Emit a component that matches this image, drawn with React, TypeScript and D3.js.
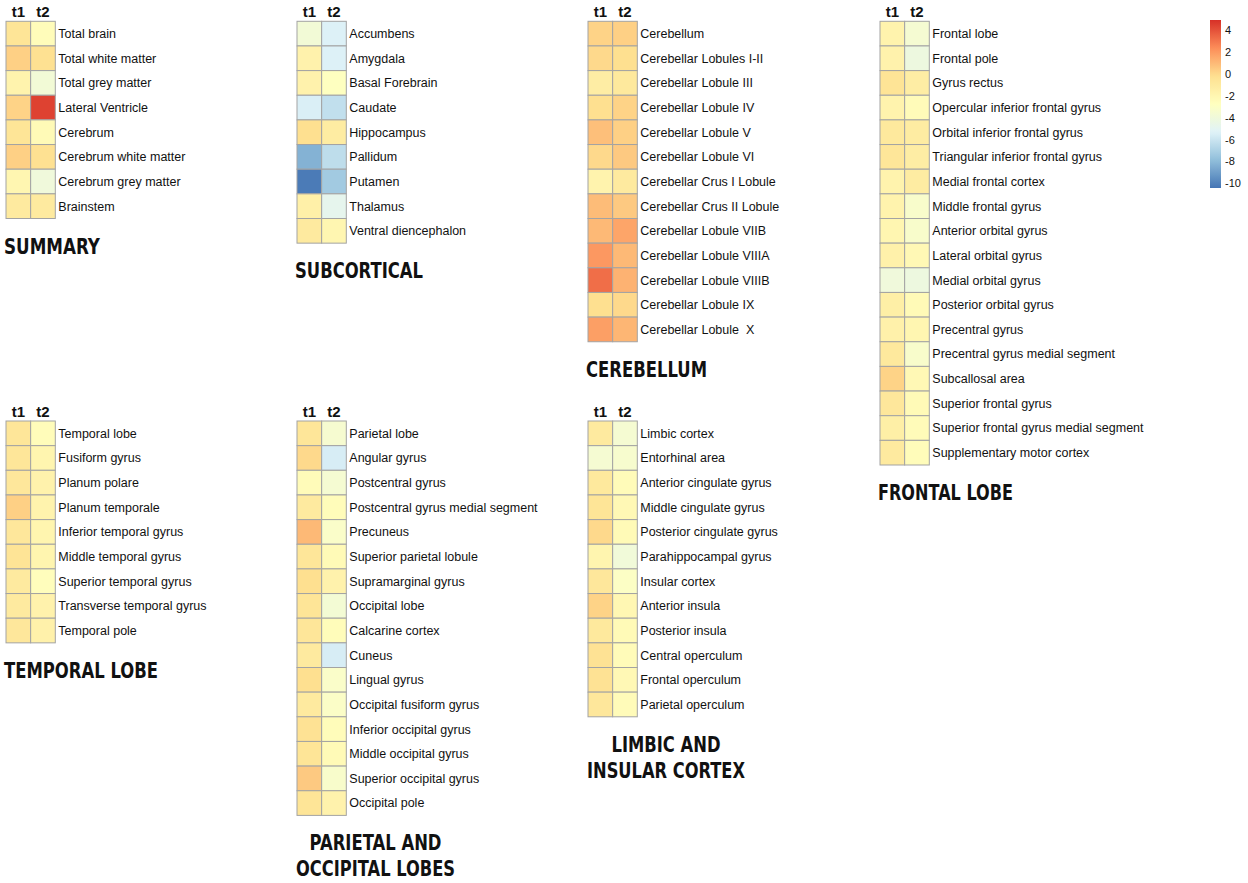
import React from "react";
import * as d3 from "d3";

// ---------- data ----------
const timepoints = ["t1", "t2"];

const summaryLabels = ["Total brain", "Total white matter", "Total grey matter", "Lateral Ventricle", "Cerebrum", "Cerebrum white matter", "Cerebrum grey matter", "Brainstem"];
const summaryT1 = [-0.6, 0.3, -1.8, 0.2, -0.6, 0.3, -2.0, -1.0];
const summaryT2 = [-2.5, -0.3, -3.8, 4.4, -2.3, -0.3, -4.0, -1.0];

const subcorticalLabels = ["Accumbens", "Amygdala", "Basal Forebrain", "Caudate", "Hippocampus", "Pallidum", "Putamen", "Thalamus", "Ventral diencephalon"];
const subcorticalT1 = [-3.8, -1.7, -1.7, -5.5, -0.2, -8.3, -10.2, -1.5, -1.0];
const subcorticalT2 = [-5.4, -5.4, -2.8, -6.3, -1.2, -6.4, -7.3, -4.8, -2.0];

const cerebellumLabels = ["Cerebellum", "Cerebellar Lobules I-II", "Cerebellar Lobule III", "Cerebellar Lobule IV", "Cerebellar Lobule V", "Cerebellar Lobule VI", "Cerebellar Crus I Lobule", "Cerebellar Crus II Lobule", "Cerebellar Lobule VIIB", "Cerebellar Lobule VIIIA", "Cerebellar Lobule VIIIB", "Cerebellar Lobule IX", "Cerebellar Lobule  X"];
const cerebellumT1 = [0.2, 0.0, -1.3, -0.2, 0.8, 0.0, -1.8, 0.9, 1.0, 2.0, 3.2, -0.2, 1.8];
const cerebellumT2 = [0.3, -0.2, -0.9, 0.2, 0.3, 0.5, -1.0, 0.5, 1.6, 1.0, 1.2, 0.0, 1.1];

const frontalLabels = ["Frontal lobe", "Frontal pole", "Gyrus rectus", "Opercular inferior frontal gyrus", "Orbital inferior frontal gyrus", "Triangular inferior frontal gyrus", "Medial frontal cortex", "Middle frontal gyrus", "Anterior orbital gyrus", "Lateral orbital gyrus", "Medial orbital gyrus", "Posterior orbital gyrus", "Precentral gyrus", "Precentral gyrus medial segment", "Subcallosal area", "Superior frontal gyrus", "Superior frontal gyrus medial segment", "Supplementary motor cortex"];
const frontalT1 = [-1.8, -1.7, -0.5, -1.8, -0.9, -0.7, -1.8, -1.8, -2.0, -1.6, -4.0, -1.4, -1.6, -0.9, 0.2, -0.8, -1.4, -1.0];
const frontalT2 = [-3.6, -4.2, -1.3, -2.4, -1.2, -1.3, -1.2, -3.3, -3.3, -2.2, -4.2, -2.3, -2.0, -3.3, -2.2, -2.3, -2.4, -2.5];

const temporalLabels = ["Temporal lobe", "Fusiform gyrus", "Planum polare", "Planum temporale", "Inferior temporal gyrus", "Middle temporal gyrus", "Superior temporal gyrus", "Transverse temporal gyrus", "Temporal pole"];
const temporalT1 = [-0.7, -0.7, -0.8, 0.3, -0.8, -0.5, -1.0, -1.0, -0.8];
const temporalT2 = [-2.5, -1.9, -1.7, -1.8, -1.9, -1.9, -2.6, -1.7, -1.6];

const parietalLabels = ["Parietal lobe", "Angular gyrus", "Postcentral gyrus", "Postcentral gyrus medial segment", "Precuneus", "Superior parietal lobule", "Supramarginal gyrus", "Occipital lobe", "Calcarine cortex", "Cuneus", "Lingual gyrus", "Occipital fusiform gyrus", "Inferior occipital gyrus", "Middle occipital gyrus", "Superior occipital gyrus", "Occipital pole"];
const parietalT1 = [-0.7, 0.0, -2.4, -1.0, 1.0, -0.7, -0.2, -0.6, -0.7, -1.0, -0.2, -1.0, -0.4, -0.6, 0.5, -0.6];
const parietalT2 = [-3.5, -5.6, -3.6, -2.5, -3.2, -2.3, -1.7, -3.7, -2.5, -5.6, -3.2, -3.1, -2.5, -2.3, -3.3, -1.7];

const limbicLabels = ["Limbic cortex", "Entorhinal area", "Anterior cingulate gyrus", "Middle cingulate gyrus", "Posterior cingulate gyrus", "Parahippocampal gyrus", "Insular cortex", "Anterior insula", "Posterior insula", "Central operculum", "Frontal operculum", "Parietal operculum"];
const limbicT1 = [-1.0, -3.6, -0.9, -0.6, 0.0, -1.9, -0.8, 0.2, -0.9, -0.4, -0.4, -0.8];
const limbicT2 = [-3.6, -3.4, -2.4, -2.2, -2.3, -3.9, -3.0, -2.1, -2.3, -2.4, -2.2, -2.4];

const legendTicks = [4, 2, 0, -2, -4, -6, -8, -10];
const valueMin = -10.4;
const valueMax = 4.9;
const paletteColors = ["#4575B4", "#91BFDB", "#E0F3F8", "#FFFFBF", "#FEE090", "#FC8D59", "#D73027"];

// ---------- layout ----------
const CELL = 24.65;
const panels = [
  { title: ["SUMMARY"], titleW: [96], labels: summaryLabels, t1: summaryT1, t2: summaryT2, x: 6, y: 21.3, center: null },
  { title: ["SUBCORTICAL"], titleW: [128], labels: subcorticalLabels, t1: subcorticalT1, t2: subcorticalT2, x: 297, y: 21.3, center: null },
  { title: ["CEREBELLUM"], titleW: [121], labels: cerebellumLabels, t1: cerebellumT1, t2: cerebellumT2, x: 588, y: 21.3, center: null },
  { title: ["FRONTAL LOBE"], titleW: [135], labels: frontalLabels, t1: frontalT1, t2: frontalT2, x: 880, y: 21.3, center: null },
  { title: ["TEMPORAL LOBE"], titleW: [154], labels: temporalLabels, t1: temporalT1, t2: temporalT2, x: 6, y: 421, center: null },
  { title: ["PARIETAL AND", "OCCIPITAL LOBES"], titleW: [132, 159], labels: parietalLabels, t1: parietalT1, t2: parietalT2, x: 297, y: 421, center: 375.5 },
  { title: ["LIMBIC AND", "INSULAR CORTEX"], titleW: [109, 158], labels: limbicLabels, t1: limbicT1, t2: limbicT2, x: 588, y: 421, center: 666 },
];

const colorDomain = d3.range(paletteColors.length).map(
  (i) => valueMin + (i * (valueMax - valueMin)) / (paletteColors.length - 1)
);
const color = d3
  .scaleLinear<string>()
  .domain(colorDomain)
  .range(paletteColors)
  .interpolate(d3.interpolateRgb)
  .clamp(true);

const titleFont = "'DejaVu Sans', sans-serif";
const labelFont = "'Liberation Sans', Arial, Helvetica, sans-serif";

function Panel({ p }: { p: any }) {
  const n = p.labels.length;
  const xs = d3.scaleBand().domain(timepoints).range([p.x, p.x + 2 * CELL]);
  const ys = d3.scaleBand().domain(p.labels).range([p.y, p.y + n * CELL]);
  const bottom = p.y + n * CELL;
  const series: Record<string, number[]> = { t1: p.t1, t2: p.t2 };
  return (
    <g>
      {timepoints.map((t) => (
        <text
          key={t}
          x={(xs(t) as number) + xs.bandwidth() / 2}
          y={p.y - 4.5}
          textAnchor="middle"
          fontFamily={labelFont}
          fontWeight="bold"
          fontSize={15}
          fill="#111"
        >
          {t}
        </text>
      ))}
      {timepoints.map((t) =>
        p.labels.map((lab: string, i: number) => (
          <rect
            key={t + lab}
            x={xs(t)}
            y={ys(lab)}
            width={xs.bandwidth()}
            height={ys.bandwidth()}
            fill={color(series[t][i])}
            stroke="#a3a3a3"
            strokeWidth={1}
          />
        ))
      )}
      {p.labels.map((lab: string) => (
        <text
          key={"l" + lab}
          x={p.x + 2 * CELL + 3}
          y={(ys(lab) as number) + ys.bandwidth() / 2}
          dy="0.35em"
          fontFamily={labelFont}
          fontSize={12.5}
          fill="#111"
          style={{ whiteSpace: "pre" }}
        >
          {lab}
        </text>
      ))}
      {p.title.map((line: string, i: number) => {
        const w = p.titleW[i];
        const x0 = p.center != null ? p.center - w / 2 : p.x - 2;
        return (
          <text
            key={"t" + i}
            x={x0}
            y={bottom + 35 + i * 26}
            fontFamily={titleFont}
            fontWeight="bold"
            fontSize={22}
            textLength={w}
            lengthAdjust="spacingAndGlyphs"
            fill="#111"
          >
            {line}
          </text>
        );
      })}
    </g>
  );
}

function Legend() {
  const top = 20;
  const bottom = 188;
  const ly = d3.scaleLinear().domain([valueMin, valueMax]).range([bottom, top]);
  const stops = d3.range(0, 1.0001, 0.02);
  return (
    <g>
      <defs>
        <linearGradient id="lg" x1="0" y1="1" x2="0" y2="0">
          {stops.map((s) => (
            <stop key={s} offset={s} stopColor={color(valueMin + s * (valueMax - valueMin))} />
          ))}
        </linearGradient>
      </defs>
      <rect x={1210} y={top} width={11} height={bottom - top} fill="url(#lg)" />
      {legendTicks.map((t) => (
        <text
          key={t}
          x={1225}
          y={ly(t)}
          dy="0.35em"
          fontFamily={labelFont}
          fontSize={11}
          fill="#111"
        >
          {t}
        </text>
      ))}
    </g>
  );
}

export default function App() {
  return (
    <svg
      width={1248}
      height={883}
      style={{ position: "absolute", left: 0, top: 0, background: "#fff" }}
    >
      <rect width={1248} height={883} fill="#fff" />
      {panels.map((p, i) => (
        <Panel key={i} p={p} />
      ))}
      <Legend />
    </svg>
  );
}
